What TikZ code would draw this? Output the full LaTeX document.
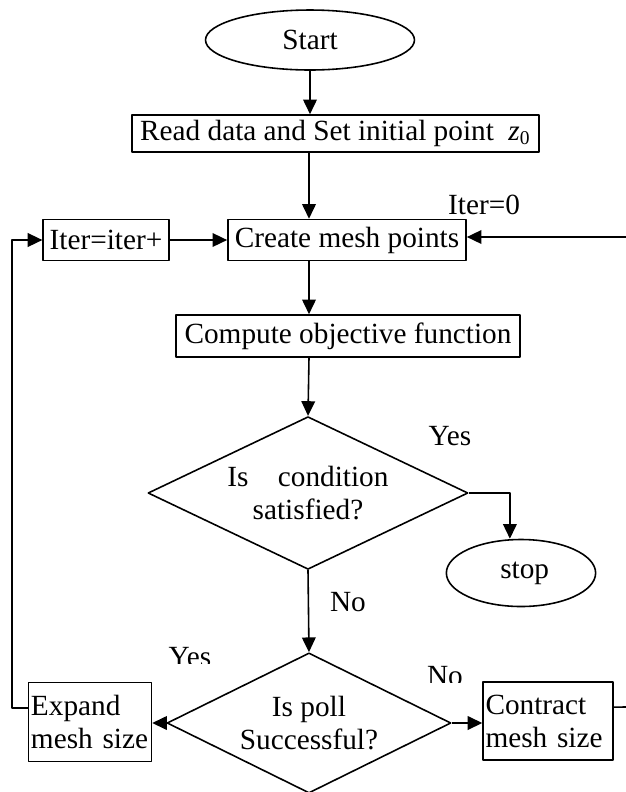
\documentclass[tikz,border=0pt]{standalone}
\usepackage{fontspec}
\setmainfont{Liberation Serif}
\usetikzlibrary{shapes.geometric,arrows.meta}

\begin{document}
\begin{tikzpicture}[x=0.0144cm,y=-0.0144cm,>={Triangle[length=6pt,width=5.6pt]},
        font=\fontsize{12}{13.5}\selectfont, line width=0.65pt, line join=round,
        box/.style={draw,rectangle,inner sep=1pt,minimum height=0.59cm},
        term/.style={draw,ellipse,inner sep=0pt},
        test/.style={draw,diamond,aspect=2,inner sep=0pt,align=center}]
        \useasboundingbox (0,0) rectangle (626,792);
        \node[term,minimum width=3.01cm,minimum height=0.864cm] (start) at (310,40) {Start};
        \node[box,minimum width=5.86cm,minimum height=0.533cm] (read) at (335.5,133.5) {Read data and Set initial point \ \textit{z}\textsubscript{0}};
        \node[box,minimum width=1.81cm] (iter) at (106,240) {Iter=iter+};
        \node[box,minimum width=3.43cm] (mesh) at (347,240) {Create mesh points};
        \node[box,minimum width=4.95cm,minimum height=0.605cm] (obj) at (348,336) {Compute objective function};
        \node[test,minimum width=4.61cm,minimum height=2.2cm] (cond) at (308,493) {Is\quad condition\\satisfied?};
        \node[term,minimum width=2.15cm,minimum height=0.965cm] (stop) at (521,573) {\ stop};
        \node[test,minimum width=4.09cm,minimum height=2.02cm] (poll) at (309,723) {Is poll\\Successful?};
        \node[box,text width=1.7cm,minimum height=1.14cm,align=left] (expand) at (90,722) {Expand\\mesh size};
        \node[box,text width=1.8cm,minimum height=1.12cm,align=left] (contract) at (548,721) {Contract\\mesh size};
        \node (it0) at (484,205) {Iter=0};
        \node (yes1) at (450,436) {Yes};
        \node (no1) at (348,602) {No};
        \begin{scope}
                \clip (160,630) rectangle (230,663) (420,650) rectangle (480,682);
                \node (yes2) at (190,657) {Yes};
                \node (no2) at (445,676) {No};
        \end{scope}
        \coordinate (sp) at (309,0);
        \coordinate (rb) at (626,707);
        \coordinate (rt) at (626,237);
        \draw[->] (start) -- (start |- read.north);
        \draw[->] (sp |- read.south) -- (sp |- mesh.north);
        \draw[->] (sp |- mesh.south) -- (sp |- obj.north);
        \draw[->] (sp |- obj.south) -- (cond.north);
        \draw[->] (cond.east) -| ([xshift=-0.16cm]stop.north);
        \draw[->] (cond.south) -- (poll.north);
        \draw[->] (poll.west) -- (poll.west -| expand.east);
        \draw[->] (poll.east) -- (poll.east -| contract.west);
        \draw[->] ([yshift=0.2cm]expand.west) -- ++(-16,0) |- (iter.west);
        \draw[->] (iter) -- (mesh);
        \draw ([yshift=0.2cm]contract.east) -- (rb);
        \draw[->] (rt) -- (rt -| mesh.east);
\end{tikzpicture}
\end{document}
